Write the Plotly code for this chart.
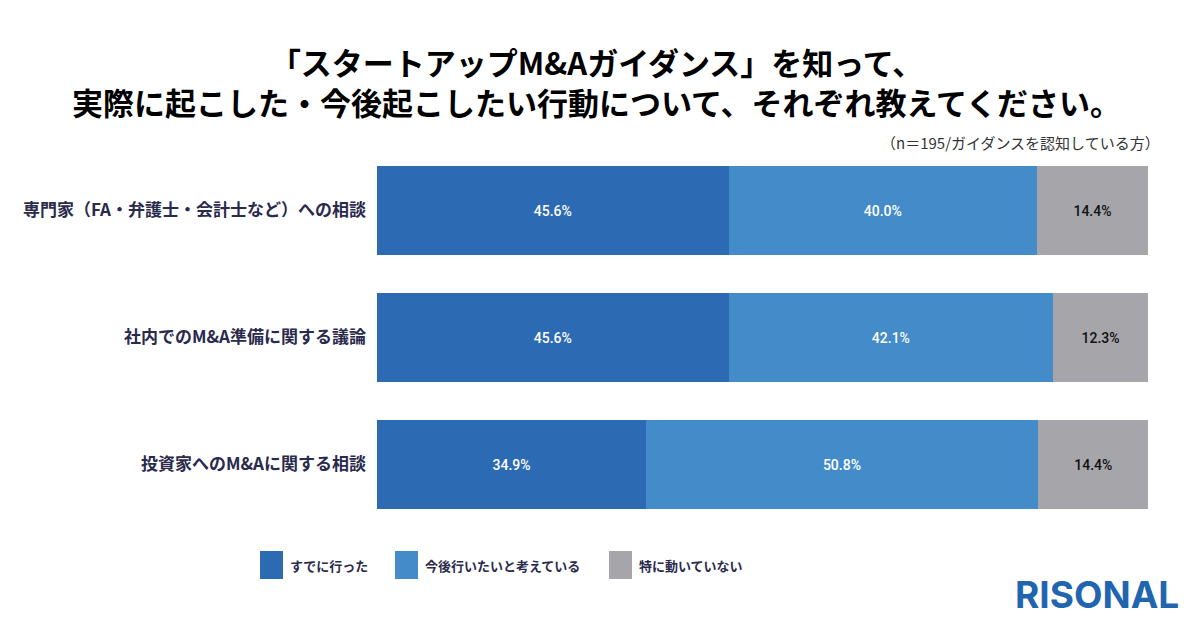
import plotly.graph_objects as go

categories = ["専門家（FA・弁護士・会計士など）への相談",
              "社内でのM&A準備に関する議論",
              "投資家へのM&Aに関する相談"]
series_names = ["すでに行った", "今後行いたいと考えている", "特に動いていない"]
done = [45.6, 45.6, 34.9]
future = [40.0, 42.1, 50.8]
none_ = [14.4, 12.3, 14.4]
colors = ["#2D6AB4", "#438BC9", "#A6A6AA"]
text_colors = ["white", "white", "#111111"]

FONT = "Noto Sans CJK JP"
NUMFONT = "Roboto"
W, H = 1200, 628
L, R, T, B = 377, 52, 147, 100
PW, PH = W - L - R, H - T - B


def px(x):
    return (x - L) / PW


def py(y):
    return (H - B - y) / PH


fig = go.Figure()
for name, vals, c, tc in zip(series_names, [done, future, none_], colors, text_colors):
    fig.add_trace(go.Bar(
        y=categories, x=vals, name=name, orientation="h",
        marker=dict(color=c, line=dict(width=0)),
        texttemplate="%{x:.1f}%", textposition="inside",
        insidetextanchor="middle",
        textfont=dict(color=tc, size=14, family=NUMFONT, weight=500),
        showlegend=False,
    ))

fig.update_layout(
    barmode="stack", bargap=0.3,
    width=W, height=H,
    margin=dict(l=L, r=R, t=T, b=B),
    paper_bgcolor="white", plot_bgcolor="white",
    font=dict(family=FONT),
    xaxis=dict(range=[0, 100], visible=False, fixedrange=True),
    yaxis=dict(autorange="reversed", showgrid=False, ticks="",
               tickfont=dict(size=17, color="#2a2a4c", family=FONT, weight="bold"),
               ticklabelstandoff=10, showline=False),
)

# Title (two lines)
fig.add_annotation(text="<b>「スタートアップM&Aガイダンス」を知って、<br>"
                        "実際に起こした・今後起こしたい行動について、それぞれ教えてください。</b>",
                   x=px(596), y=py(81), xref="paper", yref="paper",
                   xanchor="center", yanchor="middle", align="center", showarrow=False,
                   font=dict(size=31, color="#000000", family=FONT))
fig.add_annotation(text="（n＝195/ガイダンスを認知している方）",
                   x=px(1162), y=py(143), xref="paper", yref="paper",
                   xanchor="right", yanchor="middle", showarrow=False,
                   font=dict(size=15, color="#333333", family=FONT))

# Custom legend
leg_x = [260, 395, 609]
for lx, name, c in zip(leg_x, series_names, colors):
    fig.add_shape(type="rect", xref="paper", yref="paper",
                  x0=px(lx), x1=px(lx + 23),
                  y0=py(579), y1=py(551),
                  fillcolor=c, line=dict(width=0))
    fig.add_annotation(text="<b>" + name + "</b>", x=px(lx + 28), y=py(565),
                       xref="paper", yref="paper", xanchor="left", yanchor="middle",
                       showarrow=False, font=dict(size=13, color="#2a2a4c", family=FONT))

# Logo
fig.add_annotation(text="<b>RISONAL</b>", x=px(1181), y=py(594),
                   xref="paper", yref="paper", xanchor="right", yanchor="middle",
                   showarrow=False, font=dict(size=37, color="#1F65B0", family="Inter"))

fig.write_html("out.html")
